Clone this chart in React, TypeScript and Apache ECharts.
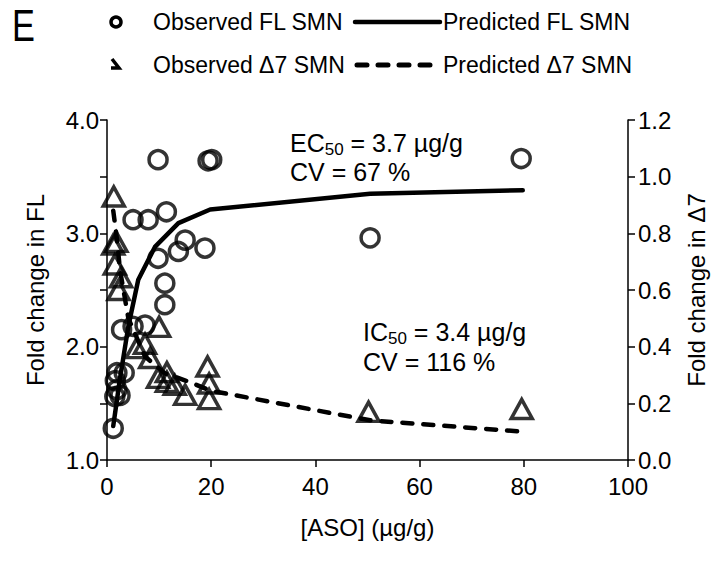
import React, { useEffect, useRef } from "react";
import * as echarts from "echarts";

const xTicks = [0, 20, 40, 60, 80, 100];

const flObsX = [1.2, 1.5, 1.6, 1.9, 1.9, 2.5, 3.3, 2.8, 5.0, 7.3, 5.0, 7.9, 11.4, 9.8, 9.8, 11.1, 11.1, 13.7, 15.0, 18.8, 19.4, 20.1, 50.5, 79.5];
const flObsY = [1.28, 1.56, 1.70, 1.62, 1.77, 1.57, 1.77, 2.15, 2.18, 2.19, 3.12, 3.12, 3.19, 3.65, 2.78, 2.56, 2.37, 2.84, 2.94, 2.87, 3.64, 3.65, 2.96, 3.66];

const d7ObsX = [1.3, 1.2, 1.8, 1.5, 2.7, 2.2, 10.0, 5.7, 7.3, 8.3, 9.8, 11.5, 11.5, 13.0, 15.0, 19.3, 19.6, 19.6, 50.2, 79.6];
const d7ObsY = [0.93, 0.76, 0.77, 0.69, 0.645, 0.6, 0.47, 0.395, 0.41, 0.36, 0.29, 0.31, 0.276, 0.265, 0.23, 0.33, 0.27, 0.215, 0.17, 0.18];

const flPredX = [1.2, 2.5, 4.1, 6.0, 9.2, 13.7, 19.8, 50.5, 79.8];
const flPredY = [1.3, 1.72, 2.18, 2.59, 2.88, 3.09, 3.21, 3.35, 3.38];

const d7PredX = [1.2, 1.9, 2.5, 4.1, 7.3, 11.1, 15.9, 19.8, 50.5, 79.8];
const d7PredY = [0.88, 0.78, 0.67, 0.5, 0.365, 0.306, 0.275, 0.245, 0.14, 0.1];

const FONT = "'Liberation Sans', Arial, sans-serif";

function zip(xs: number[], ys: number[]) {
  return xs.map((x, i) => [x, ys[i]]);
}

export default function App() {
  const ref = useRef<HTMLDivElement>(null);
  useEffect(() => {
    if (!ref.current) return;
    const chart = echarts.init(ref.current, undefined, { renderer: "svg" });
    const axisCommon = {
      axisLine: { show: true, lineStyle: { color: "#000", width: 1.5 } },
      axisTick: { show: true, inside: false, length: 7, lineStyle: { color: "#000", width: 1.5 } },
      splitLine: { show: false },
      nameTextStyle: { color: "#000", fontSize: 24, fontFamily: FONT },
    };
    const labelStyle = { color: "#000", fontSize: 24, fontFamily: FONT };
    const legendText = { fill: "#000", fontSize: 23, fontFamily: FONT, verticalAlign: "middle" };
    const annot = {
      a: { fontSize: 25, fontFamily: FONT, color: "#000", lineHeight: 30 },
      s: { fontSize: 17, fontFamily: FONT, color: "#000", lineHeight: 30, verticalAlign: "bottom" },
    };
    chart.setOption({
      animation: false,
      backgroundColor: "#fff",
      grid: { left: 107, right: 91, top: 120, bottom: 101, containLabel: false },
      xAxis: {
        type: "value",
        min: 0,
        max: 100,
        interval: 20,
        ...axisCommon,
        axisLabel: { ...labelStyle, margin: 14, formatter: (v: number) => (xTicks.includes(v) ? String(v) : "") },
        name: "[ASO] (µg/g)",
        nameLocation: "middle",
        nameGap: 55,
      },
      yAxis: [
        {
          type: "value",
          min: 1,
          max: 4,
          interval: 0.5,
          position: "left",
          ...axisCommon,
          axisLabel: {
            ...labelStyle,
            margin: 8,
            formatter: (v: number) => (Math.abs(v - Math.round(v)) < 1e-6 ? v.toFixed(1) : ""),
          },
          name: "Fold change in FL",
          nameLocation: "middle",
          nameRotate: 90,
          nameGap: 60,
        },
        {
          type: "value",
          min: 0,
          max: 1.2,
          interval: 0.2,
          position: "right",
          ...axisCommon,
          axisLabel: { ...labelStyle, margin: 10, formatter: (v: number) => v.toFixed(1) },
          name: "Fold change in Δ7",
          nameLocation: "middle",
          nameRotate: 90,
          nameGap: 56,
        },
      ],
      series: [
        {
          name: "Observed FL SMN",
          type: "scatter",
          yAxisIndex: 0,
          symbol: "circle",
          symbolSize: 18,
          itemStyle: { color: "rgba(0,0,0,0)", borderColor: "#000", borderWidth: 3.5 },
          data: zip(flObsX, flObsY),
          z: 2,
        },
        {
          name: "Observed Δ7 SMN",
          type: "scatter",
          yAxisIndex: 1,
          symbol: "triangle",
          symbolSize: [21, 19],
          itemStyle: { color: "rgba(0,0,0,0)", borderColor: "#000", borderWidth: 3.5 },
          data: zip(d7ObsX, d7ObsY),
          z: 2,
        },
        {
          name: "Predicted FL SMN",
          type: "line",
          yAxisIndex: 0,
          showSymbol: false,
          symbol: "none",
          lineStyle: { color: "#000", width: 4.5, cap: "round", join: "round" },
          data: zip(flPredX, flPredY),
          z: 3,
        },
        {
          name: "Predicted Δ7 SMN",
          type: "line",
          yAxisIndex: 1,
          showSymbol: false,
          symbol: "none",
          lineStyle: { color: "#000", width: 4.5, type: [10, 11], cap: "round", join: "round" },
          data: zip(d7PredX, d7PredY),
          z: 3,
        },
      ],
      graphic: [
        {
          type: "text",
          x: 12,
          y: 3,
          scaleX: 0.78,
          style: { text: "E", fill: "#000", fontSize: 44, fontFamily: FONT },
        },
        { type: "circle", shape: { cx: 116, cy: 22, r: 5 }, style: { fill: "none", stroke: "#000", lineWidth: 3.5 } },
        { type: "text", x: 153, y: 22, style: { text: "Observed FL SMN", ...legendText } },
        { type: "line", shape: { x1: 355, y1: 22, x2: 440, y2: 22 }, style: { stroke: "#000", lineWidth: 4.5, lineCap: "round" } },
        { type: "text", x: 443, y: 22, style: { text: "Predicted FL SMN", ...legendText } },
        {
          type: "polyline",
          shape: { points: [[112, 59], [119, 68], [111, 68]] },
          style: { fill: "none", stroke: "#000", lineWidth: 3.5 },
        },
        { type: "text", x: 153, y: 65, style: { text: "Observed Δ7 SMN", ...legendText } },
        {
          type: "line",
          shape: { x1: 357, y1: 65, x2: 440, y2: 65 },
          style: { stroke: "#000", lineWidth: 5, lineCap: "round", lineDash: [10, 11] },
        },
        { type: "text", x: 443, y: 65, style: { text: "Predicted Δ7 SMN", ...legendText } },
        {
          type: "text",
          x: 290,
          y: 143,
          style: { text: "{a|EC}{s|50}{a| = 3.7 µg/g}", rich: annot, verticalAlign: "middle" },
        },
        { type: "text", x: 290, y: 172, style: { text: "{a|CV = 67 %}", rich: annot, verticalAlign: "middle" } },
        {
          type: "text",
          x: 363,
          y: 332,
          style: { text: "{a|IC}{s|50}{a| = 3.4 µg/g}", rich: annot, verticalAlign: "middle" },
        },
        { type: "text", x: 363, y: 362, style: { text: "{a|CV = 116 %}", rich: annot, verticalAlign: "middle" } },
      ],
    });
    return () => chart.dispose();
  }, []);
  return <div ref={ref} style={{ width: 719, height: 561, position: "absolute", left: 0, top: 0 }} />;
}
